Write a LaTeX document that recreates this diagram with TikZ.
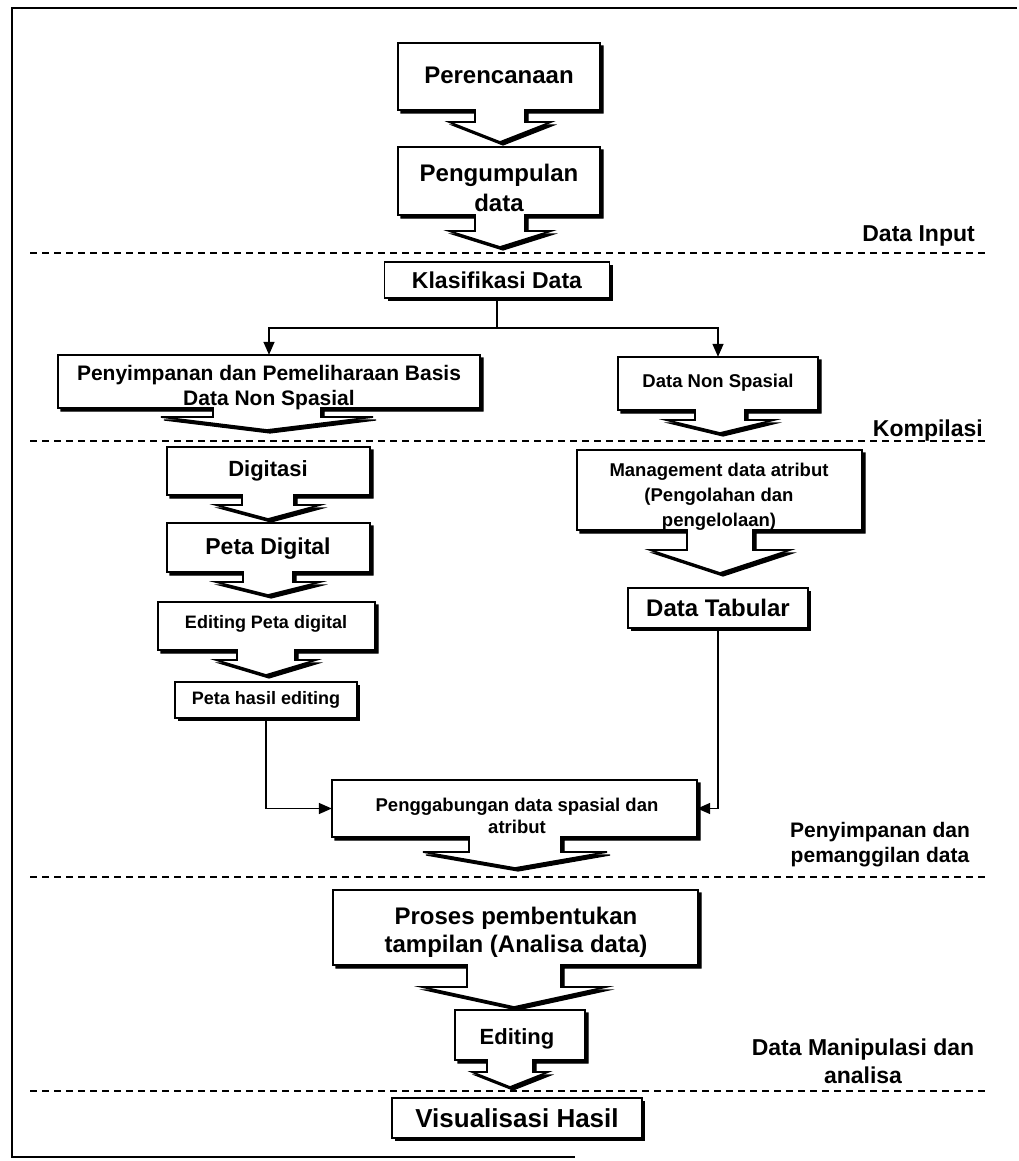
\documentclass[tikz,border=0pt]{standalone}
\usepackage{fontspec}
\setmainfont{Liberation Sans}
\usetikzlibrary{arrows.meta,shadows,fit}
\newcommand\fsz[2]{\fontsize{#1pt}{#2pt}\selectfont\bfseries}
\pgfkeys{/co/.is family,
  /co/x1/.store in=\coXa, /co/x2/.store in=\coXb,
  /co/top/.store in=\coT, /co/bot/.store in=\coB,
  /co/ax/.store in=\coAx, /co/sw/.store in=\coSw,
  /co/ww/.store in=\coWw, /co/sy/.store in=\coSy, /co/ty/.store in=\coTy}
\newcommand\callout[2]{%
  \pgfkeys{/co/.cd,#2}%
  \foreach \dd/\st in {3/coshadow,0/coface}{%
    \path[\st, shift={(\dd,\dd)}] (\coXa,\coT) -- (\coXb,\coT) -- (\coXb,\coB)
      -- (\coAx+\coSw,\coB) -- (\coAx+\coSw,\coSy) -- (\coAx+\coWw,\coSy)
      -- (\coAx,\coTy) -- (\coAx-\coWw,\coSy) -- (\coAx-\coSw,\coSy)
      -- (\coAx-\coSw,\coB) -- (\coXa,\coB) -- cycle;}%
  \node[fit={(\coXa,\coT)(\coXb,\coB)}, inner sep=0pt, draw=none] (#1) {};%
}
\tikzset{
  coshadow/.style={fill=black, draw=black, line width=1.2pt, line join=miter},
  coface/.style={fill=white, draw=black, line width=1.7pt, line join=miter},
  txt/.style={align=center, inner sep=0pt},
  pbox/.style={draw, line width=1.7pt, fill=white, inner sep=0pt,
    drop shadow={shadow xshift=3pt, shadow yshift=-3pt, fill=black, opacity=1}},
  conn/.style={line width=1.5pt, -{Triangle[length=13pt,width=11pt]}},
  dline/.style={line width=2pt, dash pattern=on 7pt off 5pt},
  frame/.style={line width=2.5pt}
}
\begin{document}
\begin{tikzpicture}[x=1pt,y=-1pt]
\useasboundingbox (0,0) rectangle (1019,1161);
% frame
\coordinate (f1) at (1017,8);
\coordinate (f2) at (12,8);
\coordinate (f3) at (12,1157);
\coordinate (f4) at (575,1157);
\draw[frame] (f1) -- (f2) -- (f3) -- (f4);
% dashed separators
\coordinate (d1a) at (30,253);  \coordinate (d1b) at (988,253);
\coordinate (d2a) at (30,441);  \coordinate (d2b) at (988,441);
\coordinate (d3a) at (30,877);  \coordinate (d3b) at (988,877);
\coordinate (d4a) at (30,1091); \coordinate (d4b) at (986,1091);
\draw[dline] (d1a) -- (d1b);
\draw[dline] (d2a) -- (d2b);
\draw[dline] (d3a) -- (d3b);
\draw[dline] (d4a) -- (d4b);
% side labels
\node[txt, anchor=east, font=\fsz{23}{28}] (lin) at (975,236) {Data Input};
\node[txt, anchor=east, font=\fsz{23}{28}] (lkom) at (983,431) {Kompilasi};
\node[txt, font=\fsz{21}{25}] (lpen) at (880,845) {Penyimpanan dan\\pemanggilan data};
\node[txt, font=\fsz{23}{28}] (lman) at (863,1061) {Data Manipulasi dan\\analisa};
% flow
\callout{per}{x1=398,x2=600,top=43,bot=110,ax=500,sw=25,ww=51,sy=122,ty=142}
\node[txt, font=\fsz{24}{30}] (per-t) at (499,75) {Perencanaan};
\callout{pen}{x1=398,x2=600,top=147,bot=215,ax=500,sw=25,ww=51,sy=231,ty=247}
\node[txt, font=\fsz{24}{30}] (pen-t) at (499,188) {Pengumpulan\\data};
\node[pbox, minimum width=225pt, minimum height=36pt, font=\fsz{23}{28}] (kla) at (497,280) {Klasifikasi Data};
\callout{peny}{x1=58,x2=480,top=355,bot=408,ax=267,sw=54,ww=106,sy=417,ty=430}
\node[txt, font=\fsz{21}{25}] (peny-t) at (269,388) {Penyimpanan dan Pemeliharaan Basis\\Data Non Spasial};
\callout{dns}{x1=618,x2=818,top=357,bot=410,ax=720,sw=25,ww=54,sy=420,ty=433}
\node[txt, font=\fsz{18.5}{23}] (dns-t) at (718,383) {Data Non Spasial};
\callout{dig}{x1=167,x2=370,top=447,bot=495,ax=268,sw=26,ww=52,sy=505,ty=519}
\node[txt, font=\fsz{22}{27}] (dig-t) at (268,471) {Digitasi};
\callout{ped}{x1=167,x2=370,top=523,bot=572,ax=268,sw=25,ww=52,sy=582,ty=595}
\node[txt, font=\fsz{23}{28}] (ped-t) at (268,549) {Peta Digital};
\callout{edp}{x1=158,x2=375,top=602,bot=650,ax=266,sw=29,ww=50,sy=660,ty=675}
\node[txt, font=\fsz{18}{22}] (edp-t) at (266,624) {Editing Peta digital};
\node[pbox, minimum width=182pt, minimum height=36pt, font=\fsz{18}{22}] (ph) at (266,700) {Peta hasil editing};
\callout{man}{x1=577,x2=862,top=450,bot=530,ax=720,sw=33,ww=70,sy=550,ty=573}
\node[txt, font=\fsz{18.5}{25}] (man-t) at (719,497) {Management data atribut\\(Pengolahan dan\\pengelolaan)};
\node[pbox, minimum width=180pt, minimum height=40pt, font=\fsz{24}{28}] (tab) at (718,608) {Data Tabular};
\callout{gab}{x1=332,x2=697,top=780,bot=837,ax=515,sw=46,ww=92,sy=852,ty=868}
\node[txt, font=\fsz{18.5}{22}] (gab-t) at (517,816) {Penggabungan data spasial dan\\atribut};
\callout{pro}{x1=333,x2=698,top=890,bot=965,ax=514,sw=47,ww=92,sy=987,ty=1007}
\node[txt, font=\fsz{24}{28}] (pro-t) at (516,932) {Proses pembentukan\\tampilan (Analisa data)};
\callout{edi}{x1=455,x2=585,top=1010,bot=1060,ax=510,sw=23,ww=38,sy=1072,ty=1087}
\node[txt, font=\fsz{22}{26}] (edi-t) at (517,1039) {Editing};
\node[pbox, minimum width=250pt, minimum height=40pt, font=\fsz{26}{30}] (vis) at (517,1118) {Visualisasi Hasil};
% connectors
\coordinate (split) at (497,328);
\draw[line width=1.5pt] (kla.south) -- (split);
\draw[conn] (split) -| (peny.north);
\draw[conn] (split) -| (dns.north);
\draw[conn] (ph.south) |- (gab.west);
\draw[conn] (tab.south) |- (gab.east);
\end{tikzpicture}
\end{document}
